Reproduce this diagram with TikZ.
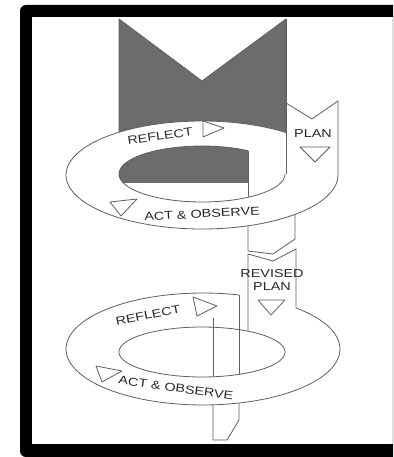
\documentclass[tikz,border=0pt]{standalone}
\usepackage{fontspec}
\setmainfont{Liberation Sans}
\definecolor{rim}{RGB}{95,95,95}
\definecolor{backside}{RGB}{108,108,108}
\definecolor{ink}{RGB}{40,40,40}
\definecolor{edge}{RGB}{222,224,232}

\begin{document}
\begin{tikzpicture}[x=1pt,y=-1pt,
	band/.style={draw=rim,line width=0.8pt,line join=round},
	arrowtri/.style={draw=rim,fill=white,line width=0.8pt,line join=round},
	lbl/.style={text=ink,font=\fontsize{11.5}{12}\selectfont,inner sep=0pt,
		xscale=1.25,transform shape}]
\useasboundingbox (0,0) rectangle (393,457);
\fill[black] (393,5) [rounded corners=6pt] -- (20,5) -- (20,457) [sharp corners] -- (393,457) -- cycle;
\fill[white] (32,17) rectangle (393,444);
\fill[edge] (391.6,17) rectangle (393,444);

% upper loop
\draw[band,fill=white] (248,200) -- (248,251) -- (273,254) -- (295,239) -- (295,200);
\draw[band,fill=backside] (119,175) -- (119,19) -- (202,81) -- (286,19) -- (286,175);
\fill[white] plot[domain=0:360,samples=120] ({202+136*cos(\x)},{175+54*sin(\x)}) -- cycle;
\draw[band] plot[domain=-360:-51.8,samples=100] ({202+136*cos(\x)},{175+54*sin(\x)});
\fill[white] plot[domain=0:360,samples=100] ({202+83*cos(\x)},{174+28*sin(\x)}) -- cycle;
\begin{scope}
	\clip plot[domain=0:360,samples=100] ({202+83*cos(\x)},{174+28*sin(\x)}) -- cycle;
	\fill[backside] (110,140) rectangle (248,183);
\end{scope}
\draw[band] plot[domain=0:303.7,samples=80] ({202+83*cos(\x)},{174+28*sin(\x)});
\draw[band] (248,150.7) -- (248,197.3);
\fill[white] (286,103) -- (312,119) -- (338,101) -- (338,175) -- (286,175) -- cycle;
\draw[band] (286,103) -- (312,119) -- (338,101) -- (338,175);
\draw[band] (286,19) -- (286,174);

% lower loop
\draw[band,fill=white] (213,300) -- (213,440) -- (227,440) -- (239,420) -- (239,300);
\fill[white] plot[domain=0:360,samples=120] ({203+137*cos(\x)},{349+56*sin(\x)}) -- cycle;
\draw[band] plot[domain=-407.2:-74.8,samples=100] ({203+137*cos(\x)},{349+56*sin(\x)});
\draw[band,fill=white] plot[domain=0:360,samples=100] ({202+83*cos(\x)},{352+25*sin(\x)}) -- cycle;
\draw[band] (213,318) -- (213,376.8);
\draw[band] (239,295) -- (239,374.4);
\fill[white] (248,254) -- (273,261) -- (296,249) -- (296,308) -- (248,331) -- cycle;
\draw[band] (248,331.2) -- (248,254) -- (273,261) -- (296,249) -- (296,307.9);

\foreach \ax/\ay/\bx/\by/\cx/\cy in {203/121/203/137/224/128, 300/147/330/147/315/162,
	110/202/137/199/121/216, 193/297/197/316/217/306, 258/300/285/300/271/315,
	96/366/122/371/102/382}
	\draw[arrowtri] (\ax,\ay) -- (\bx,\by) -- (\cx,\cy) -- cycle;

\node[rotate=8,lbl] (reflecttop) at (160,136) {REFLECT};
\node[lbl] (plantop) at (313,134) {PLAN};
\node[rotate=3,lbl] (acttop) at (202,214) {ACT \& OBSERVE};
\node[lbl] (revised) at (272,274) {REVISED};
\node[lbl] (planlow) at (272,287) {PLAN};
\node[rotate=11,lbl] (reflectlow) at (148,315) {REFLECT};
\node[rotate=-8,lbl] (actlow) at (176,388) {ACT \& OBSERVE};
\end{tikzpicture}
\end{document}
